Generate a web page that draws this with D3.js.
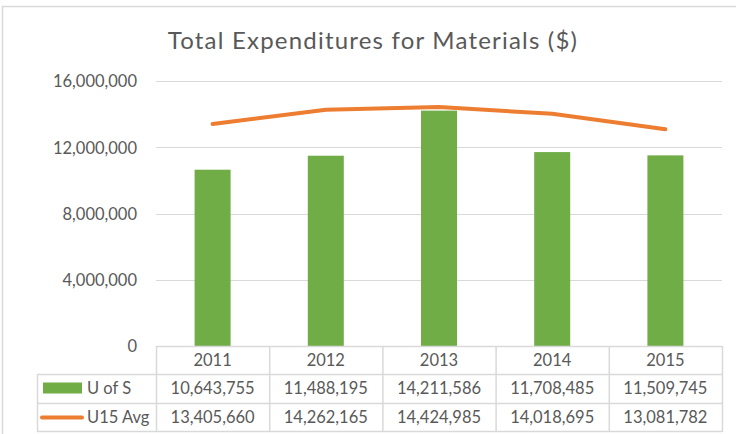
<!DOCTYPE html>
<html><head><meta charset="utf-8">
<script src="https://cdn.jsdelivr.net/npm/d3@7"></script>
<style>
html,body{margin:0;padding:0;background:#fff;}
svg{display:block;font-family:Lato,"Open Sans",sans-serif;}
</style></head>
<body>
<svg id="chart" width="736" height="434"></svg>
<script>
const title = "Total Expenditures for Materials ($)";
const years = ["2011","2012","2013","2014","2015"];
const seriesNames = ["U of S","U15 Avg"];
const uOfS = [10643755,11488195,14211586,11708485,11509745];
const u15Avg = [13405660,14262165,14424985,14018695,13081782];
const yTicks = [0,4000000,8000000,12000000,16000000];

const W = 736, H = 434;
const textColor = "#595959", gridColor = "#d9d9d9";
const green = "#70AD47", orange = "#ED7D31";
const svg = d3.select("#chart");

// frame
svg.append("line").attr("x1",2.5).attr("x2",2.5).attr("y1",6).attr("y2",H).attr("stroke","#d9d9d9").attr("stroke-width",1.5);
svg.append("line").attr("x1",2).attr("x2",W).attr("y1",6.5).attr("y2",6.5).attr("stroke","#d9d9d9").attr("stroke-width",1.5);

// title
svg.append("text").attr("x",373).attr("y",49).attr("text-anchor","middle")
  .attr("font-size",24).attr("letter-spacing",1.2).attr("fill",textColor).text(title);

const x = d3.scaleBand().domain(years).range([156,722]).padding(0);
const y = d3.scaleLinear().domain([0,16000000]).range([346,81]);
const fmt = d3.format(",");

// gridlines
svg.append("g").selectAll("line").data(yTicks.filter(d=>d>0)).join("line")
  .attr("x1",156).attr("x2",722).attr("y1",d=>Math.round(y(d))+0.5).attr("y2",d=>Math.round(y(d))+0.5)
  .attr("stroke",gridColor).attr("stroke-width",1.2);

// y axis labels via d3 axis
const yAxis = d3.axisLeft(y).tickValues(yTicks).tickFormat(fmt).tickSize(0).tickPadding(0);
const yg = svg.append("g").attr("transform","translate(137,0)").call(yAxis);
yg.select(".domain").remove();
yg.selectAll("text").attr("font-size",16.5).attr("fill",textColor).attr("font-family","Lato,'Open Sans',sans-serif").attr("dy","0.35em");

// bars
const bw = x.bandwidth()*0.318;
svg.append("g").selectAll("rect").data(years).join("rect")
  .attr("x",d=>x(d)+x.bandwidth()/2-bw/2).attr("width",bw)
  .attr("y",(d,i)=>y(uOfS[i])).attr("height",(d,i)=>y(0)-y(uOfS[i]))
  .attr("fill",green);

// line
const line = d3.line().x((d,i)=>x(years[i])+x.bandwidth()/2).y(d=>y(d));
svg.append("path").datum(u15Avg).attr("d",line).attr("fill","none")
  .attr("stroke",orange).attr("stroke-width",4).attr("stroke-linecap","round").attr("stroke-linejoin","round");

// data table
const tg = svg.append("g");
const lc = gridColor;
tg.append("line").attr("x1",156).attr("x2",722).attr("y1",346.5).attr("y2",346.5).attr("stroke",lc).attr("stroke-width",1.5);
[374,403,431].forEach(v=>{
  tg.append("line").attr("x1",37).attr("x2",722).attr("y1",v+0.5).attr("y2",v+0.5).attr("stroke",lc).attr("stroke-width",1.5);
});
tg.append("line").attr("x1",37.5).attr("x2",37.5).attr("y1",374).attr("y2",432).attr("stroke",lc).attr("stroke-width",1.5);
years.concat(["end"]).forEach((d,i)=>{
  const xv = d==="end" ? 722 : x(d);
  tg.append("line").attr("x1",xv+0.5).attr("x2",xv+0.5).attr("y1",346).attr("y2",432).attr("stroke",lc).attr("stroke-width",1.5);
});
tg.selectAll("text.hdr").data(years).join("text").attr("class","hdr")
  .attr("x",d=>x(d)+x.bandwidth()/2).attr("y",360).attr("dy","0.35em")
  .attr("text-anchor","middle").attr("font-size",16.5).attr("fill",textColor).text(d=>d);
const rows = [uOfS,u15Avg];
rows.forEach((vals,r)=>{
  const cy = r===0 ? 388.5 : 417.5;
  tg.selectAll("text.r"+r).data(vals).join("text").attr("class","r"+r)
    .attr("x",(d,i)=>x(years[i])+x.bandwidth()/2).attr("y",cy).attr("dy","0.35em")
    .attr("text-anchor","middle").attr("font-size",16.5).attr("fill",textColor).text(d=>fmt(d));
  tg.append("text").attr("x",87).attr("y",cy).attr("dy","0.35em").attr("font-size",16.5)
    .attr("fill",textColor).text(seriesNames[r]);
});
tg.append("rect").attr("x",43).attr("y",382.5).attr("width",39).attr("height",11).attr("fill",green);
tg.append("line").attr("x1",42).attr("x2",82).attr("y1",417.5).attr("y2",417.5)
  .attr("stroke",orange).attr("stroke-width",4).attr("stroke-linecap","round");
</script>
</body></html>
